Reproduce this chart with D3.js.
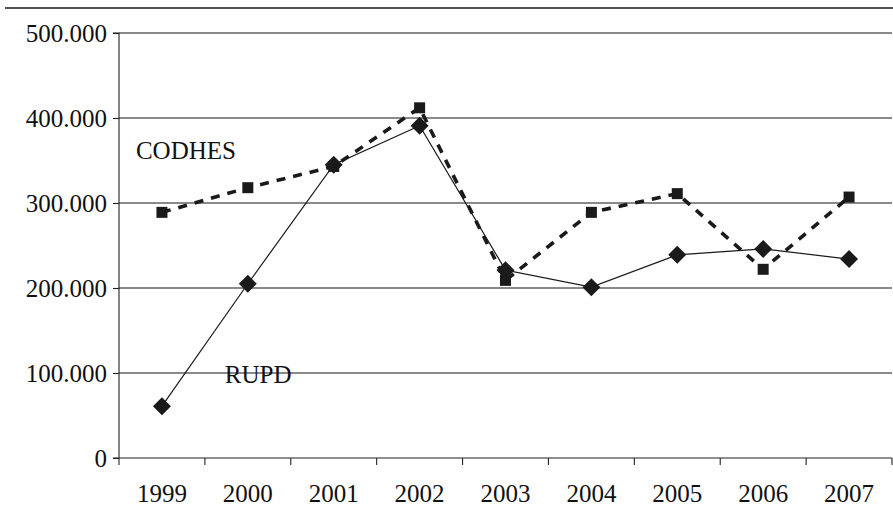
<!DOCTYPE html>
<html>
<head>
<meta charset="utf-8">
<script src="https://cdn.jsdelivr.net/npm/d3@7"></script>
<style>
  html, body { margin: 0; padding: 0; background: #fff; }
  svg { display: block; font-family: "Liberation Serif", "DejaVu Serif", serif; }
</style>
</head>
<body>
<svg id="chart" width="893" height="512"></svg>
<script>
const years = ["1999","2000","2001","2002","2003","2004","2005","2006","2007"];
const rupd = [61000, 205000, 345000, 391000, 221000, 201000, 239000, 246000, 234000];
const codhes = [289000, 318000, 343000, 412000, 209000, 289000, 311000, 222000, 307000];
const yTicks = [0, 100000, 200000, 300000, 400000, 500000];
const seriesLabels = [
  { name: "CODHES", year: "1999", value: 352000, dx: -26 },
  { name: "RUPD", year: "2000", value: 88000, dx: -23 }
];

const svg = d3.select("#chart");
const margin = { left: 119, right: 1, top: 33, bottom: 54 };
const W = 893, H = 512;

const x = d3.scaleBand().domain(years).range([margin.left, W - margin.right]).padding(0);
const y = d3.scaleLinear().domain([0, 500000]).range([H - margin.bottom, margin.top]);
const cx = d => x(d) + x.bandwidth() / 2;

// top rule
svg.append("line")
  .attr("x1", 5).attr("x2", W).attr("y1", 8).attr("y2", 8)
  .attr("stroke", "#1a1a1a").attr("stroke-width", 1.6);

// gridlines
svg.append("g").selectAll("line")
  .data(yTicks.filter(d => d > 0))
  .join("line")
  .attr("x1", margin.left).attr("x2", W - margin.right)
  .attr("y1", d => y(d)).attr("y2", d => y(d))
  .attr("stroke", "#8a8a8a").attr("stroke-width", 1.8);

// y axis
const fmt = d => d === 0 ? "0" : d3.format(",.0f")(d).replace(/,/g, ".");
const yAxis = svg.append("g")
  .attr("transform", `translate(${margin.left},0)`)
  .call(d3.axisLeft(y).tickValues(yTicks).tickFormat(fmt).tickSize(6).tickPadding(6));
yAxis.selectAll("path, line").attr("stroke", "#222").attr("stroke-width", 1.1);
yAxis.select(".domain").attr("d", `M-6,${y(500000)}H0V${y(0)}`);
yAxis.selectAll("text").attr("font-size", 25).attr("fill", "#111")
  .attr("font-family", "Liberation Serif, serif");

// x axis
const xAxis = svg.append("g")
  .attr("transform", `translate(0,${y(0)})`)
  .call(d3.axisBottom(x).tickSize(0).tickPadding(26));
xAxis.select(".domain").attr("d", `M${margin.left - 6},0H${W - margin.right}`)
  .attr("stroke", "#222").attr("stroke-width", 1.1);
xAxis.selectAll("text").attr("font-size", 25).attr("fill", "#111")
  .attr("font-family", "Liberation Serif, serif");
const bounds = years.map(d => x(d)).concat([x(years[years.length - 1]) + x.bandwidth()]);
xAxis.append("g").selectAll("line")
  .data(bounds)
  .join("line")
  .attr("x1", d => d).attr("x2", d => d).attr("y1", 0).attr("y2", 7)
  .attr("stroke", "#222").attr("stroke-width", 1.1);

// CODHES dashed line
const line = d3.line().x((d, i) => cx(years[i])).y(d => y(d));
svg.append("path")
  .datum(codhes)
  .attr("d", line)
  .attr("fill", "none")
  .attr("stroke", "#1a1a1a")
  .attr("stroke-width", 3.6)
  .attr("stroke-dasharray", "9,8");

// RUPD solid line
svg.append("path")
  .datum(rupd)
  .attr("d", line)
  .attr("fill", "none")
  .attr("stroke", "#1a1a1a")
  .attr("stroke-width", 1.2);

// CODHES squares
const sq = 11;
svg.append("g").selectAll("rect")
  .data(codhes)
  .join("rect")
  .attr("x", (d, i) => cx(years[i]) - sq / 2)
  .attr("y", d => y(d) - sq / 2)
  .attr("width", sq).attr("height", sq)
  .attr("fill", "#1a1a1a");

// RUPD diamonds
const dr = 9;
svg.append("g").selectAll("path")
  .data(rupd)
  .join("path")
  .attr("d", (d, i) => {
    const px = cx(years[i]), py = y(d);
    return `M${px},${py - dr}L${px + dr},${py}L${px},${py + dr}L${px - dr},${py}Z`;
  })
  .attr("fill", "#1a1a1a");

// series labels
svg.append("g").selectAll("text")
  .data(seriesLabels)
  .join("text")
  .attr("x", d => cx(d.year) + d.dx)
  .attr("y", d => y(d.value))
  .attr("font-size", 25)
  .attr("fill", "#111")
  .text(d => d.name);
</script>
</body>
</html>
